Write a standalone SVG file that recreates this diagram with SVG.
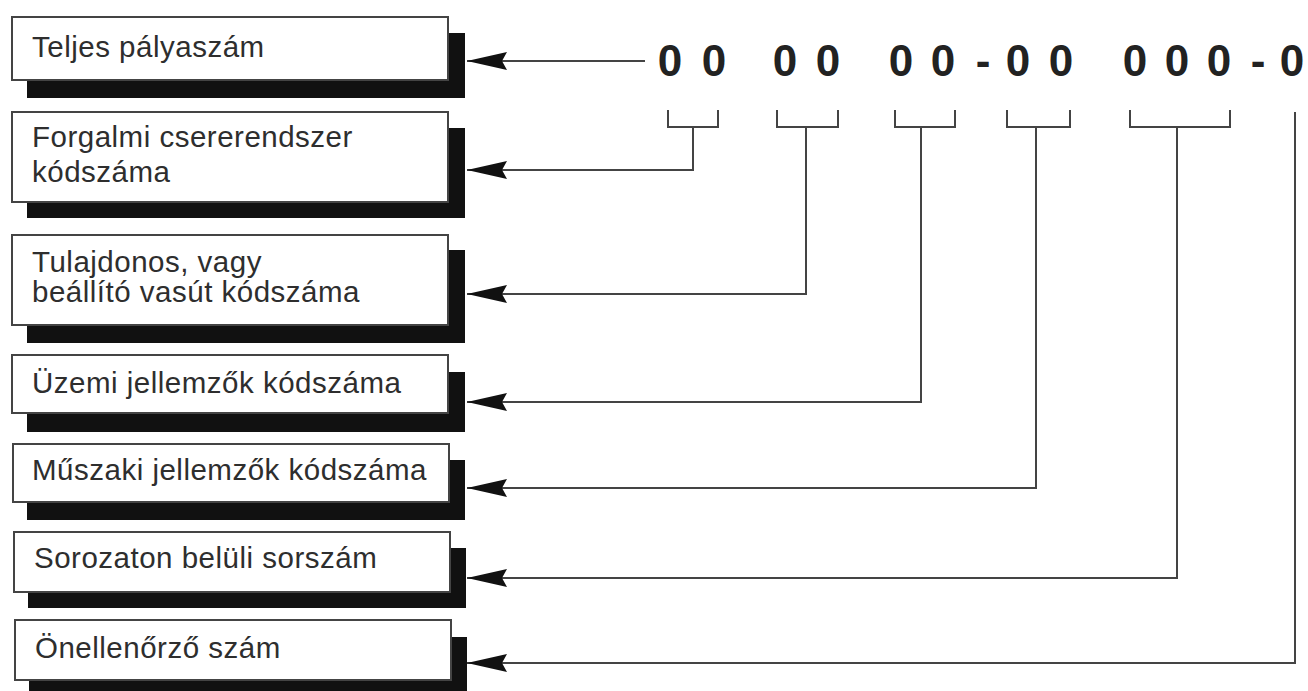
<svg xmlns="http://www.w3.org/2000/svg" width="1308" height="691" viewBox="0 0 1308 691">
  <defs>
    <marker id="ah" viewBox="0 0 40 20" refX="40" refY="10" markerWidth="40" markerHeight="20" markerUnits="userSpaceOnUse" orient="auto">
      <path d="M0,1 L40,10 L0,19 L5,10 Z" fill="#111"/>
    </marker>
  </defs>
  <style>
    .shadow { fill: #111; }
    .box { fill: #fff; stroke: #444; stroke-width: 2; }
    .lbl { font-family: "Liberation Sans", Arial, sans-serif; font-size: 29.5px; letter-spacing: 0.5px; fill: #2e2e2e; }
    .dig { font-family: "Liberation Sans", Arial, sans-serif; font-size: 44px; font-weight: bold; fill: #222; text-anchor: middle; }
    .conn { fill: none; stroke: #444; stroke-width: 2; }
    .br { fill: none; stroke: #444; stroke-width: 2; }
  </style>
  <rect width="1308" height="691" fill="#fff"/>

  <g id="node-teljes">
    <rect class="shadow" x="27" y="33" width="438" height="65"/>
    <rect class="box" x="12" y="17" width="436" height="63"/>
    <text class="lbl" x="32" y="57">Teljes pályaszám</text>
  </g>
  <g id="node-forgalmi">
    <rect class="shadow" x="27" y="128" width="438" height="90"/>
    <rect class="box" x="12" y="112" width="436" height="90"/>
    <text class="lbl" x="32" y="147">Forgalmi csererendszer</text>
    <text class="lbl" x="32" y="182">kódszáma</text>
  </g>
  <g id="node-tulajdonos">
    <rect class="shadow" x="27" y="250" width="438" height="93"/>
    <rect class="box" x="12" y="235" width="436" height="90"/>
    <text class="lbl" x="32" y="272">Tulajdonos, vagy</text>
    <text class="lbl" x="32" y="302">beállító vasút kódszáma</text>
  </g>
  <g id="node-uzemi">
    <rect class="shadow" x="27" y="372" width="438" height="60"/>
    <rect class="box" x="12" y="355" width="436" height="58"/>
    <text class="lbl" x="32" y="393">Üzemi jellemzők kódszáma</text>
  </g>
  <g id="node-muszaki">
    <rect class="shadow" x="27" y="460" width="438" height="60"/>
    <rect class="box" x="13" y="444" width="436" height="58"/>
    <text class="lbl" x="32" y="480">Műszaki jellemzők kódszáma</text>
  </g>
  <g id="node-sorozat">
    <rect class="shadow" x="28" y="548" width="438" height="60"/>
    <rect class="box" x="14" y="532" width="436" height="60"/>
    <text class="lbl" x="34" y="568">Sorozaton belüli sorszám</text>
  </g>
  <g id="node-onellenorzo">
    <rect class="shadow" x="29" y="637" width="438" height="60"/>
    <rect class="box" x="15" y="620" width="436" height="60"/>
    <text class="lbl" x="35" y="658">Önellenőrző szám</text>
  </g>

  <g id="node-number">
    <text class="dig" x="670" y="76">0</text>
    <text class="dig" x="714" y="76">0</text>
    <text class="dig" x="785" y="76">0</text>
    <text class="dig" x="828" y="76">0</text>
    <text class="dig" x="901" y="76">0</text>
    <text class="dig" x="943" y="76">0</text>
    <text class="dig" x="983" y="76">-</text>
    <text class="dig" x="1018" y="76">0</text>
    <text class="dig" x="1061" y="76">0</text>
    <text class="dig" x="1135" y="76">0</text>
    <text class="dig" x="1177" y="76">0</text>
    <text class="dig" x="1219" y="76">0</text>
    <text class="dig" x="1258" y="76">-</text>
    <text class="dig" x="1292" y="76">0</text>
  </g>

  <g id="brackets">
    <path class="br" d="M668,110 V127 H718 V110"/>
    <path class="br" d="M777,110 V127 H838 V110"/>
    <path class="br" d="M895,110 V127 H955 V110"/>
    <path class="br" d="M1007,110 V127 H1070 V110"/>
    <path class="br" d="M1130,110 V127 H1230 V110"/>
  </g>

  <g id="connectors">
    <path class="conn" marker-end="url(#ah)" d="M645,61 H467"/>
    <path class="conn" marker-end="url(#ah)" d="M693,127 V170 H467"/>
    <path class="conn" marker-end="url(#ah)" d="M806,127 V294 H467"/>
    <path class="conn" marker-end="url(#ah)" d="M921,127 V402 H467"/>
    <path class="conn" marker-end="url(#ah)" d="M1036,127 V488 H467"/>
    <path class="conn" marker-end="url(#ah)" d="M1177,127 V578 H467"/>
    <path class="conn" marker-end="url(#ah)" d="M1295,112 V663 H467"/>
  </g>
</svg>
